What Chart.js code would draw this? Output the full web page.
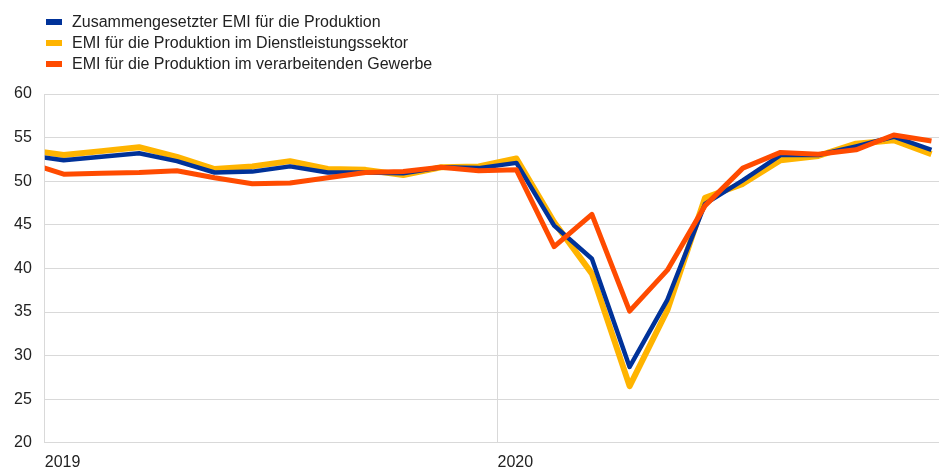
<!DOCTYPE html>
<html>
<head>
<meta charset="utf-8">
<script src="https://cdn.jsdelivr.net/npm/chart.js@4.4.1/dist/chart.umd.min.js"></script>
<style>
html, body { margin: 0; padding: 0; background: #fff; }
#wrap { position: relative; width: 939px; height: 468px; }
#pmiChart { position: absolute; left: 0; top: 0; }
#legend { position: absolute; left: 46px; top: 11px; font: 16px "Liberation Sans", Arial, sans-serif; color: #222; }
.item { display: flex; align-items: center; height: 21px; }
.box { width: 16px; height: 6px; margin-right: 10px; }
</style>
</head>
<body>
<div id="wrap">
  <canvas id="pmiChart" width="939" height="468"></canvas>
  <div id="legend"></div>
</div>
<script>
// monthly readings, Dec 2018 - Dec 2020
const months = ['2018-12',
  '2019-01', '2019-02', '2019-03', '2019-04', '2019-05', '2019-06',
  '2019-07', '2019-08', '2019-09', '2019-10', '2019-11', '2019-12',
  '2020-01', '2020-02', '2020-03', '2020-04', '2020-05', '2020-06',
  '2020-07', '2020-08', '2020-09', '2020-10', '2020-11', '2020-12'];

const composite = [53.0,
  52.4, 52.8, 53.2, 52.3, 51.0, 51.1, 51.7, 51.0, 51.0, 50.9, 51.6, 51.5,
  52.1, 44.9, 41.1, 28.7, 36.4, 47.4, 50.1, 53.0, 53.0, 54.0, 55.1, 53.6];

const services = [53.6,
  53.0, 53.45, 53.9, 52.8, 51.4, 51.7, 52.3, 51.4, 51.3, 50.7, 51.6, 51.7,
  52.6, 45.3, 39.4, 26.5, 35.2, 48.1, 49.7, 52.4, 52.9, 54.3, 54.7, 53.1];

const manufacturing = [52.2,
  50.8, 50.9, 51.0, 51.2, 50.4, 49.7, 49.8, 50.4, 51.0, 51.1, 51.6, 51.2,
  51.3, 42.5, 46.2, 35.1, 39.8, 47.2, 51.5, 53.3, 53.1, 53.6, 55.3, 54.6];

const seriesNames = [
  'Zusammengesetzter EMI für die Produktion',
  'EMI für die Produktion im Dienstleistungssektor',
  'EMI für die Produktion im verarbeitenden Gewerbe'
];

const yTicks = [20, 25, 30, 35, 40, 45, 50, 55, 60];
const yearTicks = [2019, 2020];

// x = months since Jan 2019, plotted mid-month
function toPoints(values) {
  return values.map((v, i) => ({ x: i - 0.5, y: v }));
}

const fontFamily = '"Liberation Sans", Arial, sans-serif';
const gridColor = '#d9d9d9';

const ctx = document.getElementById('pmiChart').getContext('2d');
const chart = new Chart(ctx, {
  type: 'line',
  data: {
    datasets: [
      { label: seriesNames[0], data: toPoints(composite), borderColor: '#003299', borderWidth: 4.5, order: 1 },
      { label: seriesNames[1], data: toPoints(services), borderColor: '#ffb400', borderWidth: 6, order: 2 },
      { label: seriesNames[2], data: toPoints(manufacturing), borderColor: '#ff4b00', borderWidth: 5, order: 0 }
    ].map(d => Object.assign(d, {
      pointRadius: 0, tension: 0, fill: false, clip: 0,
      borderJoinStyle: 'round', borderCapStyle: 'butt'
    }))
  },
  options: {
    responsive: false,
    animation: false,
    // year labels sit low, partly in the bottom margin
    layout: { padding: { top: 94, right: 0, bottom: -14, left: 1 } },
    plugins: { legend: { display: false }, tooltip: { enabled: false } },
    scales: {
      x: {
        type: 'linear',
        min: 0,
        max: 23.7,
        afterBuildTicks: axis => { axis.ticks = yearTicks.map(y => ({ value: (y - 2019) * 12 })); },
        ticks: {
          align: 'start',
          padding: 10,
          color: '#222',
          font: { family: fontFamily, size: 16 },
          callback: v => String(2019 + v / 12),
          maxRotation: 0
        },
        grid: { color: gridColor, drawTicks: false },
        border: { color: gridColor }
      },
      y: {
        min: 20,
        max: 60,
        afterBuildTicks: axis => { axis.ticks = yTicks.map(v => ({ value: v })); },
        ticks: {
          padding: 13,
          color: '#222',
          font: { family: fontFamily, size: 16 }
        },
        grid: { color: gridColor, drawTicks: false },
        border: { color: gridColor }
      }
    }
  }
});

// legend, one entry per row
const legend = document.getElementById('legend');
chart.data.datasets.forEach(ds => {
  const row = document.createElement('div');
  row.className = 'item';
  const box = document.createElement('span');
  box.className = 'box';
  box.style.background = ds.borderColor;
  const text = document.createElement('span');
  text.textContent = ds.label;
  row.appendChild(box);
  row.appendChild(text);
  legend.appendChild(row);
});
</script>
</body>
</html>
